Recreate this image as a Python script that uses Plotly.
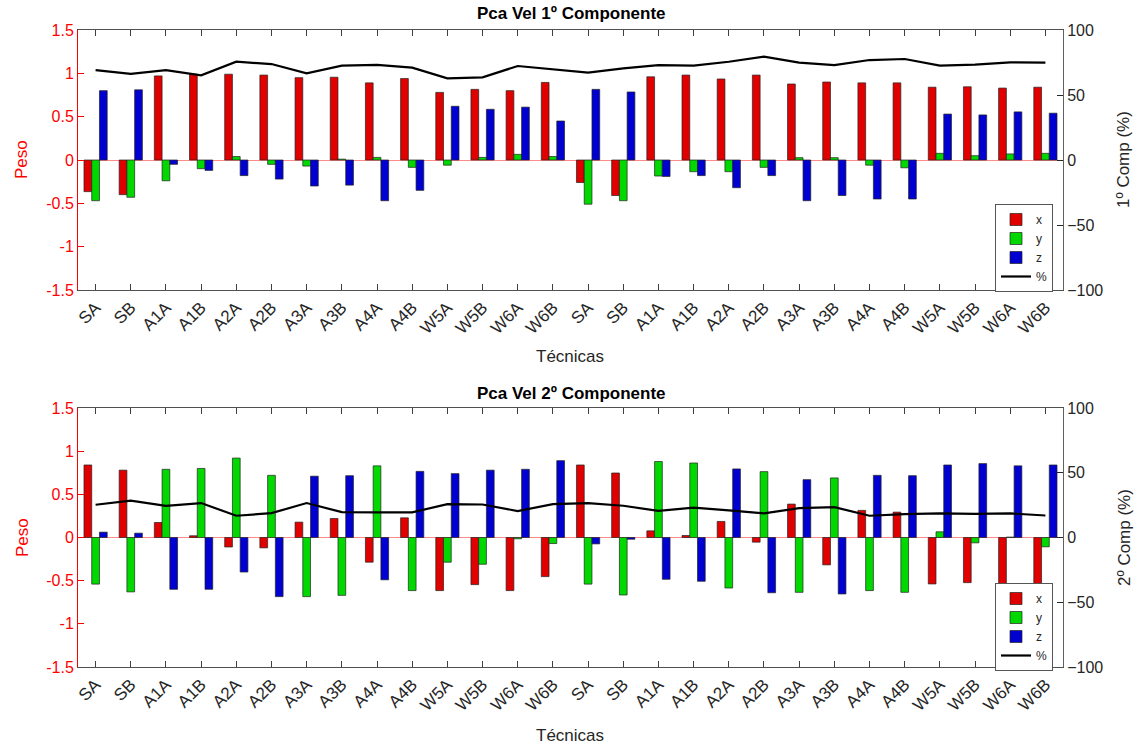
import plotly.graph_objects as go

labels = ["SA", "SB", "A1A", "A1B", "A2A", "A2B", "A3A", "A3B", "A4A", "A4B", "W5A", "W5B", "W6A", "W6B",
          "SA", "SB", "A1A", "A1B", "A2A", "A2B", "A3A", "A3B", "A4A", "A4B", "W5A", "W5B", "W6A", "W6B"]
pos = list(range(len(labels)))

c1_x = [-0.365, -0.40, 0.97, 0.99, 0.99, 0.98, 0.95, 0.955, 0.89, 0.94, 0.78, 0.815, 0.80, 0.895,
        -0.26, -0.41, 0.96, 0.98, 0.935, 0.98, 0.877, 0.90, 0.89, 0.89, 0.84, 0.845, 0.83, 0.84]
c1_y = [-0.47, -0.43, -0.24, -0.10, 0.04, -0.05, -0.07, 0.01, 0.03, -0.085, -0.06, 0.03, 0.065, 0.04,
        -0.51, -0.47, -0.185, -0.135, -0.135, -0.085, 0.027, 0.027, -0.06, -0.09, 0.077, 0.05, 0.07, 0.077]
c1_z = [0.80, 0.81, -0.05, -0.12, -0.18, -0.22, -0.30, -0.29, -0.47, -0.35, 0.62, 0.585, 0.61, 0.45,
        0.815, 0.785, -0.19, -0.18, -0.32, -0.18, -0.47, -0.41, -0.45, -0.45, 0.53, 0.52, 0.555, 0.54]
c1_pct = [69.2, 66.2, 69.2, 65.1, 75.6, 73.8, 66.7, 72.6, 73.1, 71.0, 62.8, 63.6, 72.3, 70.0,
          67.2, 70.5, 73.0, 72.6, 75.6, 79.5, 74.9, 73.0, 76.9, 77.7, 72.6, 73.3, 75.1, 74.9]

c2_x = [0.84, 0.78, 0.174, 0.02, -0.11, -0.12, 0.178, 0.22, -0.286, 0.228, -0.615, -0.546, -0.615, -0.453,
        0.84, 0.747, 0.077, 0.023, 0.186, -0.054, 0.387, -0.317, 0.314, 0.294, -0.538, -0.523, -0.62, -0.60]
c2_y = [-0.54, -0.63, 0.79, 0.80, 0.92, 0.72, -0.685, -0.67, 0.83, -0.615, -0.286, -0.31, -0.015, -0.07,
        -0.54, -0.666, 0.88, 0.863, -0.585, 0.763, -0.635, 0.69, -0.615, -0.635, 0.066, -0.062, 0.005, -0.108]
c2_z = [0.062, 0.05, -0.60, -0.60, -0.40, -0.685, 0.71, 0.716, -0.49, 0.766, 0.74, 0.78, 0.79, 0.89,
        -0.074, -0.02, -0.484, -0.507, 0.794, -0.64, 0.67, -0.654, 0.72, 0.716, 0.84, 0.856, 0.83, 0.84]
c2_pct = [25.3, 28.4, 24.5, 26.6, 16.8, 18.8, 26.6, 19.6, 19.4, 19.4, 25.8, 25.5, 20.4, 25.8,
          26.6, 24.5, 20.6, 23.0, 20.9, 18.6, 22.7, 23.5, 16.8, 18.0, 18.6, 18.3, 18.6, 17.0]

series_names = ["x", "y", "z"]
colors = ["#e00000", "#00d800", "#0000d0"]
FONT = "Liberation Sans, Arial, sans-serif"
TXT = "#262626"

fig = go.Figure()

panels = [
    (c1_x, c1_y, c1_z, c1_pct, "x", "y", "y3", "legend"),
    (c2_x, c2_y, c2_z, c2_pct, "x2", "y2", "y4", "legend2"),
]
for (vx, vy, vz, pct, xa, ya, ya2, leg) in panels:
    for name, vals, col in zip(series_names, [vx, vy, vz], colors):
        fig.add_trace(go.Bar(x=pos, y=vals, name=name, marker=dict(color=col, line=dict(color="#222", width=0.7)),
                             xaxis=xa, yaxis=ya, legend=leg))
    fig.add_trace(go.Scatter(x=pos, y=pct, name="%", mode="lines", line=dict(color="black", width=2.2),
                             xaxis=xa, yaxis=ya2, legend=leg))

xdom = [78 / 1146, 1063 / 1146]
top_dom = [1 - 290 / 748, 1 - 30 / 748]
bot_dom = [1 - 667 / 748, 1 - 408 / 748]

xcommon = dict(range=[-0.5, 27.5], tickmode="array", tickvals=pos, ticktext=labels, tickangle=-45,
               ticks="inside", ticklen=6, tickcolor="#404040", showline=True, linecolor="#505050",
               linewidth=1, mirror="ticks", showgrid=False, zeroline=False, automargin=False,
               tickfont=dict(family=FONT, size=17, color=TXT), domain=xdom)
ycommon = dict(range=[-1.5, 1.5], tickvals=[-1.5, -1, -0.5, 0, 0.5, 1, 1.5],
               ticktext=["-1.5", "-1", "-0.5", "0", "0.5", "1", "1.5"], automargin=False,
               ticks="inside", ticklen=6, tickcolor="red", showline=True, linecolor="red", linewidth=1,
               showgrid=False, zeroline=True, zerolinecolor="rgba(255,60,60,0.6)", zerolinewidth=1,
               tickfont=dict(family=FONT, size=16, color="red"))
y2common = dict(range=[-100, 100], tickvals=[-100, -50, 0, 50, 100], side="right", automargin=False,
                ticks="inside", ticklen=6, tickcolor=TXT, showline=True, linecolor="#606060", linewidth=1,
                showgrid=False, zeroline=False, tickfont=dict(family=FONT, size=16, color=TXT))

fig.update_layout(
    width=1146, height=748, margin=dict(l=0, r=0, t=0, b=0, autoexpand=False),
    paper_bgcolor="white", plot_bgcolor="white",
    barmode="group", bargap=0.34, bargroupgap=0,
    xaxis=dict(anchor="y", **xcommon),
    xaxis2=dict(anchor="y2", **xcommon),
    yaxis=dict(anchor="x", domain=top_dom, **ycommon),
    yaxis2=dict(anchor="x2", domain=bot_dom, **ycommon),
    yaxis3=dict(anchor="x", overlaying="y", **y2common),
    yaxis4=dict(anchor="x2", overlaying="y2", **y2common),
    legend=dict(x=1053 / 1146, y=1 - 204 / 748, xanchor="right", yanchor="top",
                bgcolor="white", bordercolor="#555", borderwidth=1,
                font=dict(family=FONT, size=12, color=TXT), itemwidth=30, tracegroupgap=0),
    legend2=dict(x=1053 / 1146, y=1 - 583 / 748, xanchor="right", yanchor="top",
                 bgcolor="white", bordercolor="#555", borderwidth=1,
                 font=dict(family=FONT, size=12, color=TXT), itemwidth=30, tracegroupgap=0),
    showlegend=True,
)

ann = [
    dict(text="<b>Pca Vel 1º Componente</b>", x=571, y=14, size=17, color="black", angle=0),
    dict(text="<b>Pca Vel 2º Componente</b>", x=571, y=393, size=17, color="black", angle=0),
    dict(text="Técnicas", x=570, y=356, size=17, color=TXT, angle=0),
    dict(text="Técnicas", x=570, y=735, size=17, color=TXT, angle=0),
    dict(text="Peso", x=22, y=160, size=17, color="red", angle=-90),
    dict(text="Peso", x=22, y=538, size=17, color="red", angle=-90),
    dict(text="1º Comp (%)", x=1124, y=160, size=17, color=TXT, angle=-90),
    dict(text="2º Comp (%)", x=1124, y=538, size=17, color=TXT, angle=-90),
]
for a in ann:
    fig.add_annotation(text=a["text"], x=a["x"] / 1146, y=1 - a["y"] / 748, xref="paper", yref="paper",
                       showarrow=False, xanchor="center", yanchor="middle", textangle=a["angle"],
                       font=dict(family=FONT, size=a["size"], color=a["color"]))

fig.write_html("out.html")
